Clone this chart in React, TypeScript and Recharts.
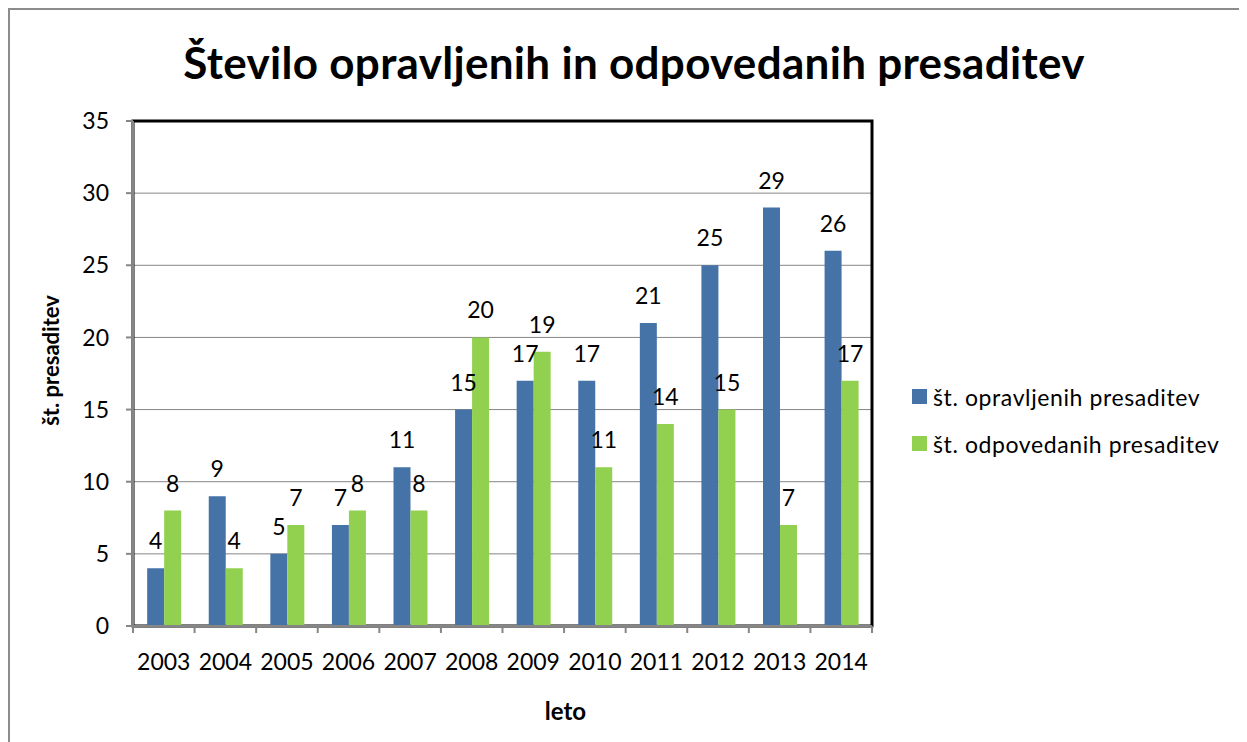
import { Bar, BarChart, CartesianGrid, LabelList, Legend, XAxis, YAxis, usePlotArea } from "recharts";

const years = ["2003", "2004", "2005", "2006", "2007", "2008", "2009", "2010", "2011", "2012", "2013", "2014"];
const opravljene = [4, 9, 5, 7, 11, 15, 17, 17, 21, 25, 29, 26];
const odpovedane = [8, 4, 7, 8, 8, 20, 19, 11, 14, 15, 7, 17];
const yTicks = [0, 5, 10, 15, 20, 25, 30, 35];

const data = years.map((leto, i) => ({ leto, opravljene: opravljene[i], odpovedane: odpovedane[i] }));

const FONT = "Lato, 'Open Sans', sans-serif";
const BLUE = "#4572A7";
const GREEN = "#92D050";
const GRAY = "#868686";

function PlotFrame() {
    const area = usePlotArea()
    if (!area) return null
    return <rect x={area.x} y={area.y} width={area.width} height={area.height} fill="none" stroke="#000" strokeWidth={3} />
}

function YearTick(props: any) {
    const { x, y, payload, index } = props
    const half = payload?.offset ?? 30.8
    return (
        <g>
            <line x1={x - half} y1={y} x2={x - half} y2={y + 7} stroke={GRAY} strokeWidth={2} />
            {index === years.length - 1 && <line x1={x + half} y1={y} x2={x + half} y2={y + 7} stroke={GRAY} strokeWidth={2} />}
            <text x={x} y={y + 44} textAnchor="middle" fontSize={23} fontFamily={FONT} fill="#000">{payload.value}</text>
        </g>
    )
}

function LegendBox() {
    const items = [
        { label: "št. opravljenih presaditev", color: BLUE },
        { label: "št. odpovedanih presaditev", color: GREEN },
    ]
    return (
        <div style={{ fontFamily: FONT, fontSize: 23, letterSpacing: 0.6 }}>
            {items.map((it) => (
                <div key={it.label} style={{ height: 47, display: "flex", alignItems: "center" }}>
                    <span style={{ width: 15, height: 15, background: it.color, display: "inline-block", marginRight: 6 }} />
                    <span>{it.label}</span>
                </div>
            ))}
        </div>
    )
}

export default function App() {
    return (
        <div style={{ position: "relative", width: 1239, height: 734, borderLeft: "2px solid #8c8c8c", borderTop: "2px solid #8c8c8c", boxSizing: "border-box", background: "#fff" }}>
            <div style={{ position: "absolute", left: 0, width: 1248, top: 26, textAlign: "center", fontFamily: FONT, fontWeight: 700, fontSize: 44, letterSpacing: 0.3 }}>
                Število opravljenih in odpovedanih presaditev
            </div>
            <div style={{ position: "absolute", left: -2, top: -2 }}>
                <BarChart width={1239} height={734} data={data} margin={{ top: 113, right: 375, bottom: 56, left: 0 }} barCategoryGap="23%" barGap={0}>
                    <CartesianGrid vertical={false} stroke={GRAY} />
                    <XAxis dataKey="leto" stroke={GRAY} strokeWidth={2} tickLine={false} tickSize={0} tickMargin={0} height={60} interval={0} tick={<YearTick />}
                        label={({ viewBox }: any) => (
                            <text x={viewBox.x + viewBox.width / 2 + 63} y={viewBox.y + 94} textAnchor="middle" fontSize={24} fontWeight={700} fontFamily={FONT} fill="#000">leto</text>
                        )} />
                    <YAxis width={125} domain={[0, 35]} ticks={yTicks} stroke={GRAY} strokeWidth={2} tickSize={7} tickMargin={17}
                        tick={{ fill: "#000", fontSize: 23, fontFamily: FONT }}
                        label={({ viewBox }: any) => {
                            const cy = viewBox.y + viewBox.height / 2 - 13
                            return (
                                <text x={42} y={cy} transform={`rotate(-90, 42, ${cy})`} textAnchor="middle" dominantBaseline="central" fontSize={22} fontWeight={700} fontFamily={FONT} fill="#000">št. presaditev</text>
                            )
                        }} />
                    <Legend layout="horizontal" verticalAlign="middle" align="center" content={<LegendBox />} wrapperStyle={{ left: 904, top: 365, width: 335 }} />
                    <Bar dataKey="opravljene" name="št. opravljenih presaditev" fill={BLUE} isAnimationActive={false}>
                        <LabelList dataKey="opravljene" position="top" offset={19} fill="#000" fontSize={23} fontFamily={FONT} />
                    </Bar>
                    <Bar dataKey="odpovedane" name="št. odpovedanih presaditev" fill={GREEN} isAnimationActive={false}>
                        <LabelList dataKey="odpovedane" position="top" offset={19} fill="#000" fontSize={23} fontFamily={FONT} />
                    </Bar>
                    <PlotFrame />
                </BarChart>
            </div>
        </div>
    )
}
